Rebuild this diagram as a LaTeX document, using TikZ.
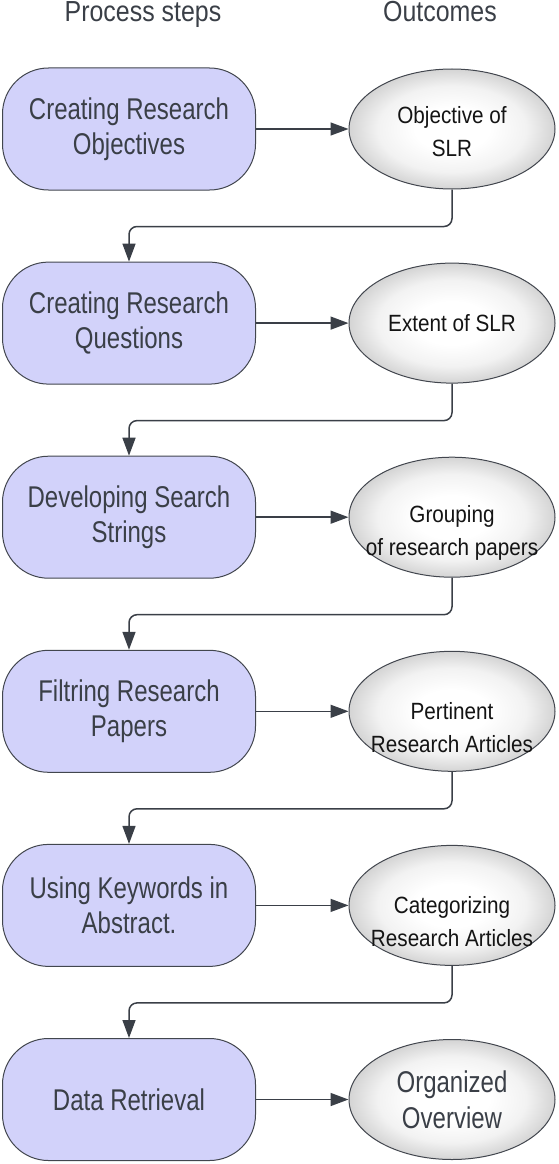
\documentclass[tikz,border=0pt]{standalone}
\usepackage{fontspec}
\setmainfont{Liberation Sans}
\newfontfamily\boxfont[FakeStretch=0.8]{Liberation Sans}
\newfontfamily\ellfont[FakeStretch=0.88]{Liberation Sans}
\newfontfamily\headfont[FakeStretch=0.86]{Liberation Sans}
\usetikzlibrary{arrows.meta,shapes.geometric}
\definecolor{boxfill}{RGB}{210,210,250}
\definecolor{ink}{RGB}{58,63,71}
\definecolor{edgec}{RGB}{66,70,78}
\definecolor{outgray}{RGB}{212,212,212}
\definecolor{midgray}{RGB}{242,242,242}
\pgfdeclareradialshading{ellshade}{\pgfpoint{0bp}{0bp}}{%
  color(0bp)=(white); color(9bp)=(white); color(18bp)=(midgray);
  color(25bp)=(outgray); color(50bp)=(outgray)}
\begin{document}
\begin{tikzpicture}[x=1pt,y=-1pt,
 stepbox/.style={draw=edgec, line width=1pt, fill=boxfill, rounded corners=46pt,
   minimum width=253pt, minimum height=122pt, inner sep=0pt, align=center,
   text=ink, font=\boxfont\fontsize{30}{35}\selectfont},
 outc/.style={ellipse, draw=edgec, line width=1pt, shading=ellshade,
   minimum width=206pt, minimum height=120pt, inner sep=0pt},
 otext/.style={align=center, text=black!92, font=\ellfont\fontsize{23.5}{33}\selectfont, inner sep=0pt},
 obig/.style={align=center, text=ink, font=\boxfont\fontsize{30}{36}\selectfont, inner sep=0pt},
 arr/.style={draw=ink, line width=1.5pt, -{Triangle[length=18pt,width=13pt]}},
 conn/.style={arr, rounded corners=8pt},
 head/.style={text=ink, font=\headfont\fontsize{29}{35}\selectfont, anchor=base, inner sep=0pt}]
\useasboundingbox (0,0) rectangle (558,1164);

\node[head] (h1) at (143,22) {Process steps};
\node[head] (h2) at (440,22) {Outcomes};

% process steps
\node[stepbox] (b1) at (129,129)   {Creating Research\\Objectives};
\node[stepbox] (b2) at (129,323.1) {Creating Research\\Questions};
\node[stepbox] (b3) at (129,517.2) {Developing Search\\Strings};
\node[stepbox] (b4) at (129,711.3) {Filtring Research\\Papers};
\node[stepbox] (b5) at (129,905.4) {Using Keywords in\\Abstract.};
\node[stepbox] (b6) at (129,1099.5) {Data Retrieval};

% outcomes
\node[outc] (o1) at (452,129) {};
\node[outc] (o2) at (452,323.1) {};
\node[outc] (o3) at (452,517.2) {};
\node[outc] (o4) at (452,711.3) {};
\node[outc] (o5) at (452,905.4) {};
\node[outc] (o6) at (452,1099.5) {};

\node[otext] (t1) at ([yshift=-3pt]o1.center) {Objective of\\SLR};
\node[otext] (t2) at (o2.center) {Extent of SLR};
\node[otext] (t3) at ([yshift=-16pt]o3.center) {Grouping\\of research papers};
\node[otext] (t4) at ([yshift=-16pt]o4.center) {Pertinent\\Research Articles};
\node[otext] (t5) at ([yshift=-16pt]o5.center) {Categorizing\\Research Articles};
\node[obig] (t6) at (o6.center) {Organized\\Overview};

% horizontal arrows
\foreach \i in {1,...,6} {
  \draw[arr] (b\i.east) -- (o\i.west);
}
% return connectors
\foreach \i/\j in {1/2,2/3,3/4,4/5,5/6} {
  \draw[conn] (o\i.south) -- ++(0,37) -| (b\j.north);
}
\end{tikzpicture}
\end{document}
